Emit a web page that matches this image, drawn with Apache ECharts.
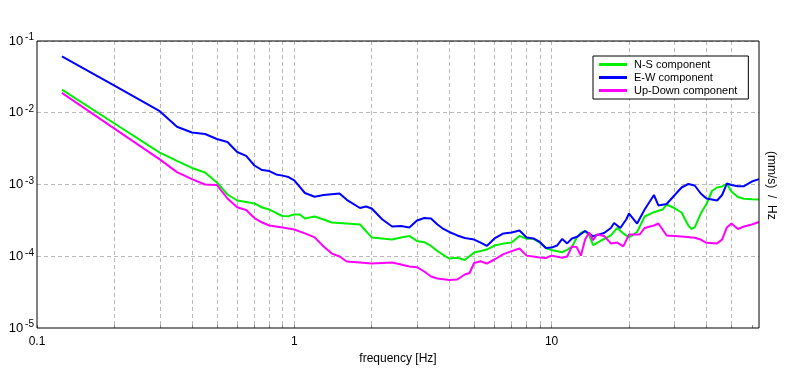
<!DOCTYPE html>
<html><head><meta charset="utf-8">
<script src="https://cdn.jsdelivr.net/npm/echarts@6/dist/echarts.min.js"></script>
<style>html,body{margin:0;padding:0;background:#fff}#c{width:796px;height:370px}</style>
</head><body><div id="c"></div>
<script>
var seriesNames = ['N-S component', 'E-W component', 'Up-Down component'];
var xLabelValues = [0.1, 1, 10];
var xGridValues = [0.1,0.2,0.3,0.4,0.5,0.6,0.7,0.8,0.9,1,2,3,4,5,6,7,8,9,10,20,30,40,50,60];

var nsFreq = [0.125,0.2,0.3,0.35,0.4,0.45,0.5,0.55,0.6,0.65,0.7,0.75,0.8,0.85,0.9,0.95,1.0,1.05,1.1,1.2,1.3,1.4,1.6,1.8,2.0,2.4,2.6,2.8,3.0,3.2,3.4,3.6,3.8,4.0,4.3,4.6,5.0,5.3,5.6,6.0,6.5,7.0,7.5,8.0,8.5,9.0,9.5,10,11,11.5,12,12.5,13,13.5,14,14.5,16,17,18,19,20,21.5,23,25,27,28,30,32,34,35,36,38,40,42,44,46,48,50,53,56,60,64];
var nsVal = [2.1e-2,7.08e-3,2.78e-3,2.13e-3,1.7e-3,1.47e-3,1.07e-3,7.25e-4,5.98e-4,5.7e-4,5.44e-4,4.78e-4,4.48e-4,4.01e-4,3.64e-4,3.62e-4,3.82e-4,3.82e-4,3.36e-4,3.58e-4,3.25e-4,2.95e-4,2.86e-4,2.77e-4,1.83e-4,1.71e-4,1.83e-4,1.92e-4,1.63e-4,1.57e-4,1.39e-4,1.18e-4,1.04e-4,9.3e-5,9.51e-5,8.87e-5,1.13e-4,1.18e-4,1.24e-4,1.41e-4,1.5e-4,1.55e-4,1.92e-4,1.75e-4,1.75e-4,1.55e-4,1.3e-4,1.22e-4,1.14e-4,1.23e-4,1.35e-4,1.8e-4,2.11e-4,2.25e-4,1.95e-4,1.43e-4,1.74e-4,1.95e-4,2.48e-4,2.08e-4,1.83e-4,2.18e-4,3.58e-4,4.11e-4,4.48e-4,5.26e-4,4.7e-4,4.07e-4,2.68e-4,2.4e-4,2.52e-4,3.94e-4,5.35e-4,8.12e-4,9.08e-4,9.38e-4,1.02e-3,7.99e-4,6.7e-4,6.32e-4,6.22e-4,6.18e-4];

var ewFreq = [0.125,0.2,0.3,0.35,0.4,0.45,0.5,0.55,0.6,0.65,0.7,0.75,0.8,0.85,0.9,0.95,1.0,1.1,1.2,1.3,1.5,1.6,1.8,1.9,2.0,2.2,2.4,2.6,2.8,3.0,3.2,3.4,3.6,3.8,4.0,4.3,4.6,5.0,5.3,5.6,6.0,6.5,7.0,7.5,8.0,8.5,9.0,9.5,10,10.5,11,11.5,12,12.5,13.5,14.5,16,17,17.5,18.5,19.5,20,21.5,23,25,26,28,30,32,34,36,38,40,44,46,48,50,53,56,60,64];
var ewVal = [6.12e-2,2.38e-2,1.05e-2,6.39e-3,5.3e-3,5.06e-3,4.31e-3,3.91e-3,2.84e-3,2.5e-3,1.84e-3,1.59e-3,1.54e-3,1.38e-3,1.33e-3,1.27e-3,1.14e-3,7.61e-4,6.74e-4,7.14e-4,7.49e-4,6.12e-4,4.7e-4,4.94e-4,4.63e-4,3.25e-4,2.6e-4,2.64e-4,2.52e-4,3.15e-4,3.41e-4,3.36e-4,2.77e-4,2.4e-4,2.18e-4,1.95e-4,1.8e-4,1.71e-4,1.55e-4,1.39e-4,1.77e-4,2.08e-4,2.14e-4,2.29e-4,1.83e-4,1.77e-4,1.58e-4,1.3e-4,1.32e-4,1.41e-4,1.74e-4,1.51e-4,1.77e-4,1.85e-4,2.25e-4,1.9e-4,2.11e-4,2.48e-4,2.91e-4,2.48e-4,3.25e-4,3.94e-4,2.86e-4,4.48e-4,7.14e-4,5.1e-4,5.35e-4,7.03e-4,9.08e-4,1.016e-3,9.68e-4,7.49e-4,6.38e-4,5.98e-4,7.14e-4,1.03e-3,9.84e-4,9.47e-4,9.47e-4,1.1e-3,1.19e-3];

var udFreq = [0.125,0.2,0.3,0.35,0.4,0.45,0.5,0.55,0.6,0.65,0.7,0.75,0.8,0.9,1.0,1.1,1.2,1.3,1.4,1.5,1.6,1.8,2.0,2.4,2.6,2.8,3.0,3.2,3.4,3.6,4.0,4.3,4.6,4.8,5.0,5.3,5.6,6.0,6.5,7.0,7.5,8.0,9.0,9.5,10,11,11.5,12,12.5,13,13.5,14,14.5,15,16,17,18,19,20,22,23,25,26,27,28,30,32,36,38,40,44,46,48,50,53,56,60,64];
var udVal = [1.89e-2,6.01e-3,2.24e-3,1.49e-3,1.19e-3,1.0e-3,9.84e-4,6.38e-4,4.83e-4,4.41e-4,3.41e-4,2.95e-4,2.68e-4,2.52e-4,2.36e-4,2.08e-4,1.83e-4,1.37e-4,1.09e-4,9.92e-5,8.45e-5,8.18e-5,7.92e-5,8.18e-5,7.67e-5,7.2e-5,7.04e-5,6.13e-5,5.22e-5,4.9e-5,4.67e-5,4.74e-5,5.57e-5,5.84e-5,8.05e-5,8.53e-5,7.92e-5,9.01e-5,1.07e-4,1.18e-4,1.28e-4,1.02e-4,9.61e-5,9.45e-5,1.02e-4,9.51e-5,9.92e-5,1.37e-4,1.35e-4,1.02e-4,1.71e-4,2.14e-4,1.67e-4,2.01e-4,1.92e-4,1.51e-4,1.55e-4,1.37e-4,2.01e-4,2.01e-4,2.48e-4,2.68e-4,2.86e-4,2.36e-4,1.95e-4,1.92e-4,1.88e-4,1.81e-4,1.71e-4,1.54e-4,1.51e-4,1.71e-4,2.52e-4,2.86e-4,2.4e-4,2.6e-4,2.77e-4,3.0e-4];

function pairs(f, v) { return f.map(function (x, i) { return [x, v[i]]; }); }
var FONT = 'Liberation Sans, Arial, sans-serif';
var gridLine = { color: '#b9b9b9', width: 1, type: [4, 3] };

var chart = echarts.init(document.getElementById('c'), null, { renderer: 'canvas' });
chart.setOption({
  animation: false,
  backgroundColor: '#fff',
  grid: { left: 37, right: 37, top: 41, bottom: 42, show: true, borderColor: '#000', borderWidth: 1, backgroundColor: 'transparent', z: 10 },
  legend: {
    orient: 'vertical', left: 593, top: 56,
    data: seriesNames,
    icon: 'rect', itemWidth: 28, itemHeight: 3, itemGap: 2,
    padding: [3, 11, 3, 6],
    borderColor: '#000', borderWidth: 1, backgroundColor: '#fff',
    textStyle: { fontFamily: FONT, fontSize: 11, color: '#000', padding: [0, 0, 0, 2] },
    z: 20
  },
  xAxis: {
    type: 'log', logBase: 10, min: 0.1, max: 64,
    name: 'frequency [Hz]', nameLocation: 'middle', nameGap: 19,
    nameTextStyle: { fontFamily: FONT, fontSize: 12, color: '#000' },
    axisLine: { show: false },
    axisTick: { show: true, inside: true, length: 3, lineStyle: { color: '#888' }, customValues: xGridValues },
    axisLabel: { fontFamily: FONT, fontSize: 12, color: '#000', margin: 8, customValues: xLabelValues,
      formatter: function (v) { return String(+v.toPrecision(3)); } },
    splitLine: { show: true, lineStyle: gridLine, showMinLine: false, showMaxLine: false },
    minorTick: { show: false }
  },
  yAxis: {
    type: 'log', logBase: 10, min: 1e-5, max: 0.1,
    axisLine: { show: false },
    axisTick: { show: false },
    axisLabel: {
      fontFamily: FONT, fontSize: 13, color: '#000', margin: 3,
      formatter: function (v) { var e = Math.round(Math.log10(v)); return '10{e|' + e + '}'; },
      rich: { e: { fontFamily: FONT, fontSize: 10, color: '#000', padding: [0, 0, 7, 2] } }
    },
    splitLine: { show: true, lineStyle: gridLine, showMinLine: false, showMaxLine: false }
  },
  graphic: [{
    type: 'text', left: 765, top: 151, rotation: -Math.PI / 2, originX: 0, originY: 0,
    style: { text: '(mm/s)  /  Hz', font: '12px ' + FONT, fill: '#000' }
  }],
  series: [
    { name: seriesNames[0], type: 'line', data: pairs(nsFreq, nsVal), showSymbol: false, lineStyle: { width: 2, color: '#00ee00' }, itemStyle: { color: '#00ee00' } },
    { name: seriesNames[1], type: 'line', data: pairs(ewFreq, ewVal), showSymbol: false, lineStyle: { width: 2, color: '#0000ff' }, itemStyle: { color: '#0000ff' } },
    { name: seriesNames[2], type: 'line', data: pairs(udFreq, udVal), showSymbol: false, lineStyle: { width: 2, color: '#ff00ff' }, itemStyle: { color: '#ff00ff' } }
  ]
});
</script></body></html>
